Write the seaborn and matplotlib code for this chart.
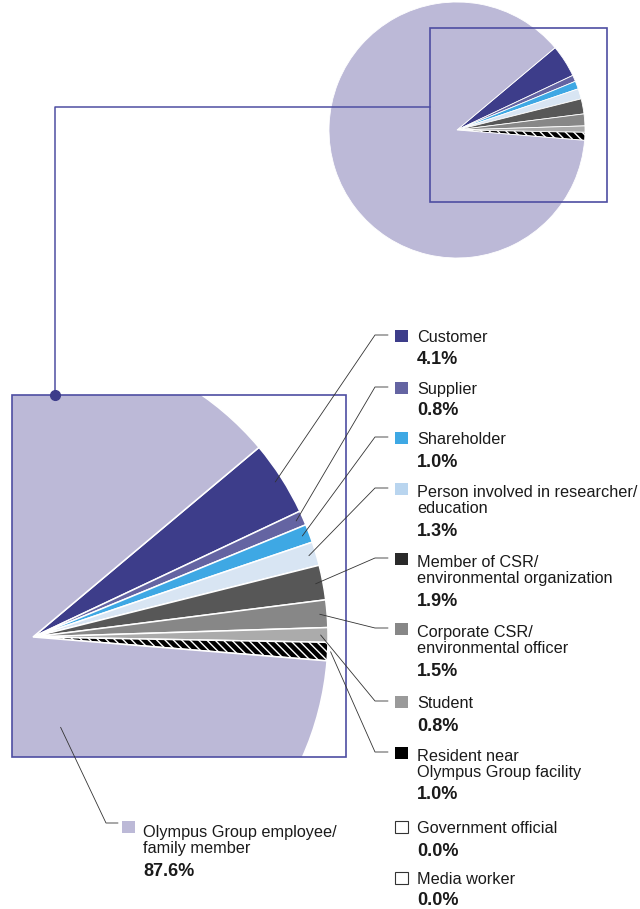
import numpy as np
import pandas as pd
import seaborn as sns
import matplotlib.pyplot as plt
from matplotlib.patches import Rectangle

# Data (share of respondents, %)
categories = ["Customer", "Supplier", "Shareholder",
              "Person involved in researcher/\neducation",
              "Member of CSR/\nenvironmental organization",
              "Corporate CSR/\nenvironmental officer",
              "Student",
              "Resident near\nOlympus Group facility",
              "Olympus Group employee/\nfamily member"]
shares = [4.1, 0.8, 1.0, 1.3, 1.9, 1.5, 0.8, 1.0, 87.6]
zero_categories = ["Government official", "Media worker"]
zero_shares = [0.0, 0.0]

pie_colors = ["#3d3d8a", "#6464a2", "#3ea8e4", "#d8e5f3", "#575757",
              "#878787", "#ababab", "#000000", "#bcb9d7"]
key_colors = ["#3d3d8a", "#6464a2", "#3ea8e4", "#b9d5ef", "#2a2a2a",
              "#878787", "#9a9a9a", "#000000", "#bcb9d7"]

df = pd.DataFrame({"category": categories, "share": shares,
                   "pie_color": pie_colors, "key_color": key_colors})

sns.set_theme(style="white")
plt.rcParams["font.family"] = ["Liberation Sans", "DejaVu Sans"]
plt.rcParams["hatch.linewidth"] = 1.0

H = 909
fig = plt.figure(figsize=(6.4, 9.09), dpi=100)
ax = fig.add_axes([0, 0, 1, 1])


def Y(y):
    # image row -> data y
    return H - y


START = 40
box_color = "#4e4ea2"
line_color = "#333333"
hatch = "\\" * 4

# small overview pie
small_c = (457, Y(130))
small_r = 128
w_small, _ = ax.pie(df["share"], colors=df["pie_color"], startangle=START,
                    counterclock=False, center=small_c, radius=small_r,
                    wedgeprops=dict(edgecolor="white", linewidth=0.6))
w_small[7].set_hatch(hatch)

small_box = Rectangle((430, Y(202)), 177, 174, fill=False,
                      edgecolor=box_color, lw=1.2, zorder=4)
ax.add_patch(small_box)

# zoomed pie clipped to the big box
big_c = (33, Y(637))
big_r = 295
big_box = Rectangle((12, Y(757)), 334, 362, fill=False,
                    edgecolor=box_color, lw=1.2, zorder=4)
ax.add_patch(big_box)
w_big, _ = ax.pie(df["share"], colors=df["pie_color"], startangle=START,
                  counterclock=False, center=big_c, radius=big_r,
                  wedgeprops=dict(edgecolor="white", linewidth=1.1))
w_big[7].set_hatch(hatch)
for w in w_big:
    w.set_clip_on(True)
    w.set_clip_path(big_box)

# connector between boxes
ax.plot([430, 55, 55], [Y(107), Y(107), Y(395)], color=box_color, lw=1.1, zorder=4)
ax.plot([55], [Y(395)], "o", ms=7, color="#3d3d8a", zorder=5)

# wedge mid angles for leader lines
cum = np.concatenate([[0], np.cumsum(shares)])
theta1 = START - cum[:-1] * 3.6
theta2 = START - cum[1:] * 3.6
mid = np.radians((theta1 + theta2) / 2)

# first-line and last-line baselines of each name, value baseline (image rows)
name_top = [342, 394, 444, 495, 565, 635, 708, 759]
name_last = [342, 394, 444, 513, 583, 653, 708, 777]
value_base = [364, 415, 467, 536, 606, 676, 731, 799]
sq_x, txt_x = 395, 417
name_fs, value_fs = 11.7, 13

for i in range(8):
    frac = 1.01 if i == 7 else 0.975
    ax_ = big_c[0] + frac * big_r * np.cos(mid[i])
    ay_ = big_c[1] + frac * big_r * np.sin(mid[i])
    ly = Y(name_top[i] - 7)
    ax.plot([ax_, 375, 388], [ay_, ly, ly], color=line_color, lw=0.6, zorder=6)
    ax.add_patch(Rectangle((sq_x, Y(name_top[i])), 13, 12.5,
                           facecolor=key_colors[i], edgecolor="none"))
    ax.text(txt_x, Y(name_last[i]), categories[i], fontsize=name_fs,
            va="baseline", ha="left", linespacing=1.12, color="#1a1a1a")
    ax.text(txt_x, Y(value_base[i]), f"{shares[i]:.1f}%", fontsize=value_fs,
            fontweight="bold", va="baseline", ha="left", color="#1a1a1a")

# categories with no share
for name, val, nb, vb in zip(zero_categories, zero_shares, [833, 884], [856, 905]):
    ax.add_patch(Rectangle((sq_x, Y(nb)), 13, 12.5, facecolor="white",
                           edgecolor="#333333", lw=0.8))
    ax.text(txt_x, Y(nb), name, fontsize=name_fs, va="baseline", ha="left",
            color="#1a1a1a")
    ax.text(txt_x, Y(vb), f"{val:.1f}%", fontsize=value_fs, fontweight="bold",
            va="baseline", ha="left", color="#1a1a1a")

# Olympus employee label
ang = np.radians(-73)
ox = big_c[0] + 0.32 * big_r * np.cos(ang)
oy = big_c[1] + 0.32 * big_r * np.sin(ang)
ax.plot([ox, 106, 118], [oy, Y(823), Y(823)], color=line_color, lw=0.6, zorder=6)
ax.add_patch(Rectangle((122, Y(833)), 13, 12.5, facecolor=key_colors[8],
                       edgecolor="none"))
ax.text(143, Y(853), categories[8], fontsize=name_fs, va="baseline", ha="left",
        linespacing=1.12, color="#1a1a1a")
ax.text(143, Y(876), f"{shares[8]:.1f}%", fontsize=value_fs, fontweight="bold",
        va="baseline", ha="left", color="#1a1a1a")

ax.set_xlim(0, 640)
ax.set_ylim(0, H)
ax.set_aspect("equal")
ax.axis("off")

plt.savefig("out.png", dpi=100)
